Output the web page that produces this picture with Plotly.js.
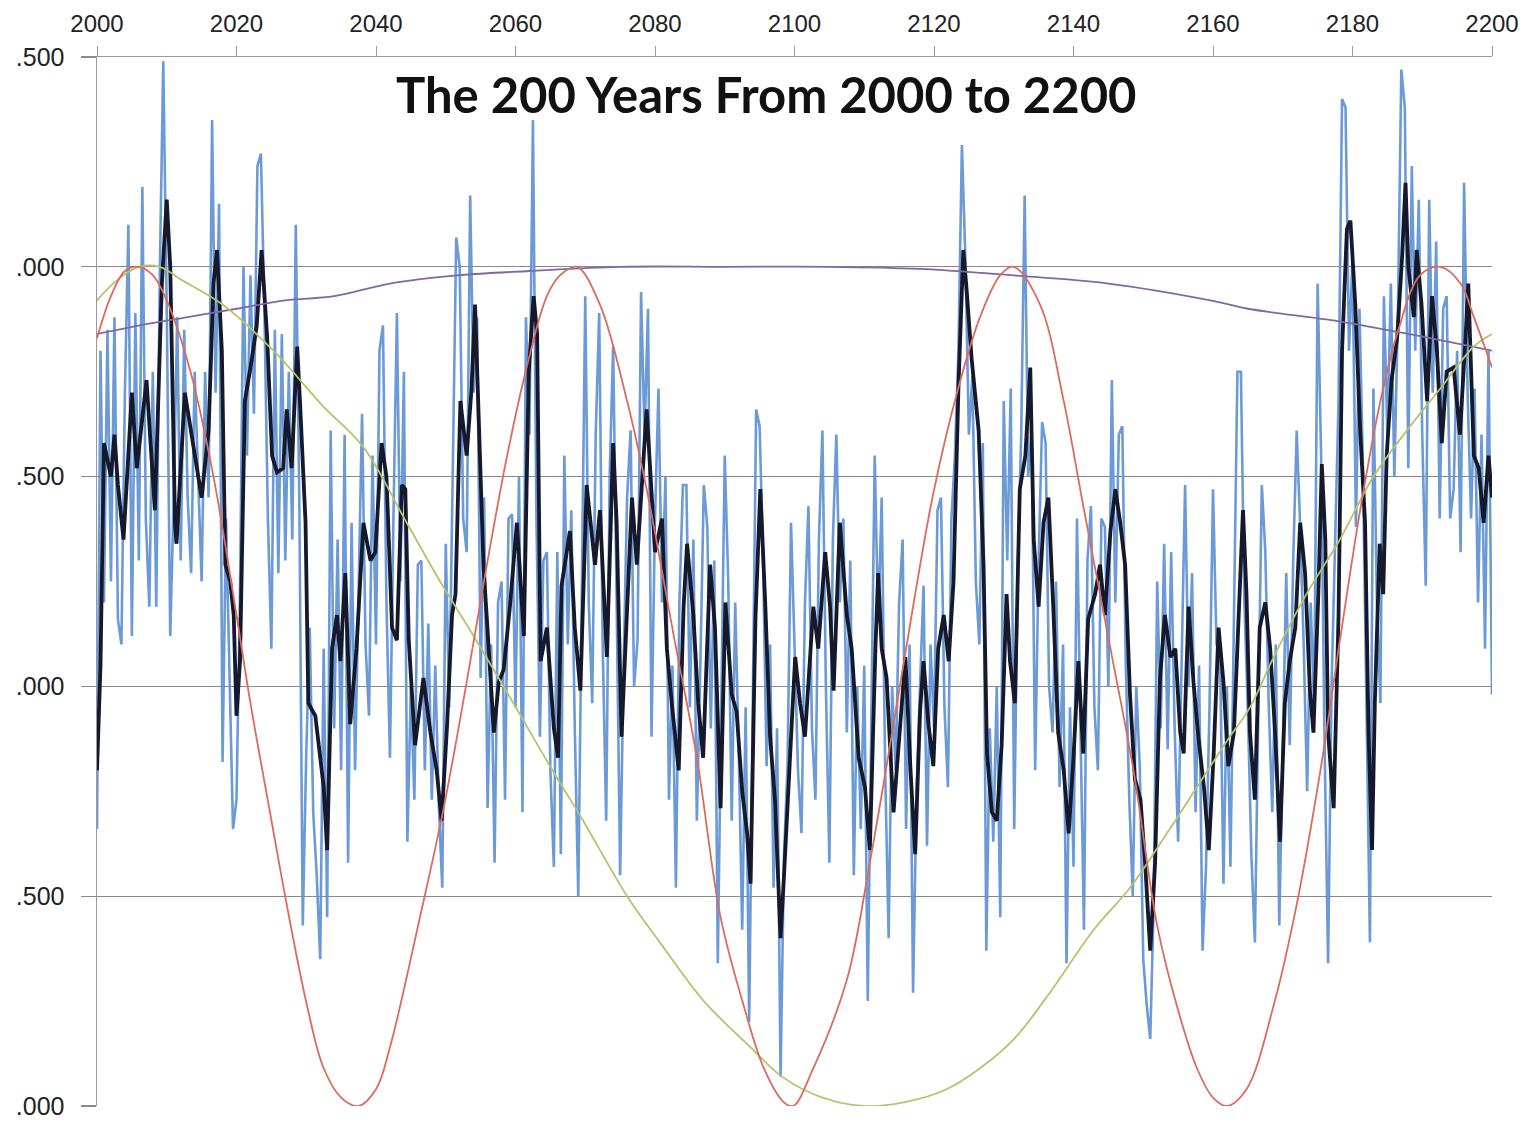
<!DOCTYPE html>
<html>
<head>
<meta charset="utf-8">
<script src="https://cdn.plot.ly/plotly-3.0.1.min.js"></script>
<style>html,body{margin:0;padding:0;background:#fff;}#chart{width:1534px;height:1140px;}</style>
</head>
<body>
<div id="chart"></div>
<script>
// ---------- data ----------
const xTickVals = [2000,2020,2040,2060,2080,2100,2120,2140,2160,2180,2200];
const yTickVals = [0, 0.5, 1.0, 1.5, 2.0, 2.5];
const yTickText = [".000", ".500", ".000", ".500", ".000", ".500"];

// raw (noisy) series, sampled every half year from 2000
const rawStartYear = 2000;
const rawStep = 0.5;
const rawValues = [
 0.66,1.80,1.20,1.85,1.25,1.88,1.16,1.10,1.70,2.10,
 1.12,1.89,1.30,2.19,1.40,1.19,1.75,1.19,1.98,2.49,
 1.90,1.12,1.45,1.88,1.30,1.85,1.45,1.27,1.75,1.50,
 1.25,1.75,1.45,2.35,1.70,2.15,0.82,1.40,1.00,0.66,
 0.73,1.22,2.00,1.55,1.98,1.65,2.24,2.27,1.90,1.40,
 1.09,1.85,1.27,1.84,1.30,1.75,1.35,2.10,1.45,0.43,
 0.84,1.14,0.70,0.55,0.35,1.09,0.45,1.61,0.90,1.35,
 0.80,1.60,0.58,1.39,0.80,1.25,1.65,1.10,0.93,1.55,
 1.10,1.80,1.86,1.20,0.83,1.40,1.89,1.25,1.75,0.63,
 1.00,0.73,1.29,1.30,0.80,1.15,0.73,1.05,0.72,0.52,
 1.34,0.95,1.55,2.07,2.00,1.40,1.32,2.17,1.70,1.88,
 1.02,1.45,0.71,1.10,0.58,1.20,1.25,0.73,1.40,1.41,
 0.95,1.50,0.70,1.88,1.60,2.35,1.40,0.88,1.30,1.32,
 0.80,0.57,1.32,0.60,1.55,1.10,1.42,0.90,0.50,1.30,
 1.93,1.20,0.96,1.60,1.89,1.10,0.68,1.50,1.81,1.20,
 0.55,1.05,1.45,1.61,1.00,1.11,1.94,1.60,1.90,0.88,
 1.40,1.71,1.20,1.50,0.73,1.05,0.52,1.20,1.48,1.48,
 0.95,1.35,0.68,1.05,1.48,1.38,0.90,1.30,0.34,0.95,
 1.55,1.25,0.68,1.20,0.85,0.42,0.95,0.20,1.00,1.66,
 1.62,1.30,0.81,1.10,0.52,0.90,0.07,0.60,0.81,1.39,
 1.10,0.80,0.65,1.20,1.43,0.90,0.73,1.35,1.61,1.00,
 0.58,1.35,1.60,1.20,1.40,0.89,1.30,0.55,1.00,0.66,
 1.05,0.25,0.90,1.55,1.15,1.45,0.80,0.40,1.00,0.80,
 1.20,1.35,0.66,1.10,0.27,0.75,1.00,1.24,0.62,1.10,
 0.90,1.42,1.45,0.95,0.76,1.40,1.55,1.80,2.29,2.02,
 1.60,1.74,1.25,1.10,1.58,0.37,0.90,0.63,1.00,0.45,
 1.68,1.30,1.71,0.66,1.27,1.60,2.17,1.50,1.61,0.80,
 1.30,1.63,1.58,1.00,0.89,1.25,0.76,1.10,0.34,0.95,
 0.57,1.40,0.90,0.42,1.30,1.43,0.95,0.80,1.40,1.38,
 1.00,1.73,1.20,1.60,1.62,1.05,0.73,0.50,1.00,0.81,
 0.35,0.24,0.16,0.48,1.25,0.90,1.34,0.85,1.32,0.90,
 0.63,1.10,1.48,1.00,1.27,0.70,1.05,0.37,0.57,0.95,
 1.47,1.10,1.09,0.53,1.00,0.57,1.20,1.75,1.75,1.20,
 0.94,0.60,0.39,1.00,1.48,1.32,0.95,0.70,1.10,0.43,
 0.90,1.27,0.86,1.30,1.61,1.38,1.10,0.75,1.20,0.95,
 1.96,1.55,0.86,0.34,1.00,1.35,1.68,2.40,2.38,1.80,
 2.02,1.38,1.90,1.52,0.89,0.39,1.71,1.20,0.96,1.93,
 1.60,1.96,1.50,1.88,2.47,2.38,1.52,2.24,1.80,2.16,
 1.60,1.24,2.16,1.70,2.06,1.40,1.90,1.93,1.40,1.47,
 1.80,1.32,2.20,1.70,1.40,1.71,1.20,1.60,1.09,1.80,
 0.98
];

// smoothed (dark) series: [year, value]
const smoothSeries = [
 [2000.0,0.80],[2000.5,1.05],[2001.0,1.58],[2001.4,1.55],[2002.0,1.50],[2002.5,1.60],[2003.0,1.48],[2003.8,1.35],[2005.0,1.70],[2005.7,1.52],
 [2007.1,1.73],[2008.3,1.42],[2009.3,1.96],[2010.0,2.16],[2010.5,2.00],[2011.2,1.38],[2011.4,1.34],[2012.6,1.70],[2013.8,1.58],[2015.0,1.45],
 [2016.0,1.61],[2016.7,1.96],[2017.2,2.04],[2017.9,1.80],[2018.4,1.29],[2019.1,1.25],[2019.6,1.17],[2020.0,0.93],[2020.5,1.06],[2021.2,1.68],
 [2022.2,1.78],[2022.9,1.86],[2023.6,2.04],[2024.4,1.83],[2025.1,1.55],[2025.8,1.51],[2026.7,1.52],[2027.2,1.66],[2027.9,1.52],[2028.7,1.81],
 [2029.1,1.68],[2029.9,1.39],[2030.3,0.96],[2031.3,0.93],[2032.5,0.76],[2033.0,0.61],[2033.7,1.09],[2034.4,1.17],[2034.9,1.06],[2035.6,1.27],
 [2036.3,0.91],[2037.2,1.09],[2038.2,1.39],[2039.2,1.30],[2039.9,1.32],[2040.8,1.58],[2041.5,1.50],[2042.3,1.14],[2043.0,1.11],[2043.7,1.48],
 [2044.2,1.47],[2044.7,1.11],[2045.6,0.86],[2046.3,0.96],[2046.8,1.02],[2047.8,0.89],[2048.7,0.80],[2049.4,0.68],[2050.2,0.91],[2050.9,1.17],
 [2051.4,1.22],[2052.1,1.68],[2053.0,1.55],[2053.7,1.71],[2054.2,1.91],[2054.9,1.55],[2055.4,1.29],[2055.9,1.16],[2056.9,0.89],[2057.6,1.01],
 [2058.3,1.04],[2059.2,1.19],[2060.2,1.39],[2061.2,1.12],[2061.9,1.75],[2062.6,1.93],[2063.1,1.84],[2063.6,1.06],[2064.5,1.14],[2065.5,0.90],
 [2066.1,0.83],[2066.6,1.24],[2067.8,1.37],[2068.5,1.14],[2069.3,0.99],[2070.2,1.48],[2071.4,1.29],[2072.1,1.42],[2073.1,1.07],[2074.0,1.58],
 [2074.5,1.39],[2075.2,0.88],[2076.2,1.29],[2076.7,1.45],[2077.4,1.29],[2078.1,1.47],[2078.8,1.66],[2079.3,1.52],[2080.0,1.32],[2081.0,1.40],
 [2081.7,1.09],[2082.4,0.96],[2083.4,0.80],[2084.1,1.19],[2084.6,1.34],[2085.5,1.17],[2086.2,0.96],[2086.9,0.83],[2087.9,1.29],[2088.6,1.14],
 [2089.4,0.71],[2090.1,1.20],[2091.0,0.98],[2091.7,0.94],[2092.5,0.75],[2093.2,0.65],[2093.7,0.53],[2094.4,1.16],[2095.1,1.47],[2095.8,1.20],
 [2096.5,0.88],[2097.2,0.73],[2098.0,0.40],[2098.5,0.55],[2099.2,0.80],[2099.6,0.91],[2100.1,1.07],[2100.8,0.96],[2101.5,0.88],[2102.2,1.07],
 [2102.7,1.19],[2103.4,1.09],[2104.4,1.32],[2105.1,1.19],[2105.6,0.99],[2106.5,1.39],[2107.5,1.17],[2108.2,1.09],[2109.2,0.83],[2110.1,0.76],
 [2110.8,0.61],[2111.6,1.09],[2112.0,1.27],[2112.5,1.09],[2113.2,1.02],[2114.2,0.70],[2114.9,0.86],[2115.9,1.07],[2116.6,0.81],[2117.3,0.60],
 [2118.0,0.94],[2118.5,1.06],[2119.2,0.91],[2119.9,0.81],[2120.6,1.09],[2121.4,1.17],[2122.1,1.06],[2122.8,1.25],[2123.5,1.71],[2124.2,2.04],
 [2124.7,1.94],[2125.4,1.78],[2126.4,1.61],[2127.1,1.29],[2127.6,0.84],[2128.3,0.70],[2129.0,0.68],[2129.7,0.86],[2130.4,1.22],[2130.9,1.06],
 [2131.6,0.96],[2132.3,1.47],[2133.1,1.55],[2133.8,1.76],[2134.3,1.35],[2135.0,1.19],[2135.7,1.39],[2136.4,1.45],[2137.1,1.19],[2137.8,0.89],
 [2138.6,0.80],[2139.3,0.65],[2140.0,0.83],[2140.7,1.06],[2141.4,0.84],[2142.1,1.16],[2143.1,1.22],[2143.8,1.29],[2144.5,1.17],[2145.3,1.37],
 [2146.0,1.47],[2146.7,1.39],[2147.4,1.29],[2148.1,0.98],[2148.8,0.78],[2149.6,0.73],[2150.3,0.57],[2151.0,0.37],[2151.7,0.58],[2152.4,1.02],
 [2153.1,1.17],[2153.9,1.07],[2154.6,1.09],[2155.3,0.89],[2155.8,0.84],[2156.5,1.19],[2157.2,1.01],[2157.9,0.88],[2158.7,0.76],[2159.4,0.61],
 [2160.1,0.84],[2160.8,1.14],[2161.5,1.01],[2162.2,0.81],[2163.0,0.89],[2163.7,1.19],[2164.3,1.42],[2164.8,1.22],[2165.3,0.89],[2166.0,0.73],
 [2166.7,1.14],[2167.5,1.20],[2168.2,1.09],[2168.9,0.89],[2169.6,0.63],[2170.3,0.96],[2171.0,1.06],[2171.8,1.14],[2172.5,1.39],[2173.2,1.27],
 [2173.9,0.99],[2174.4,0.89],[2175.1,1.22],[2175.6,1.53],[2176.1,1.35],[2176.5,0.89],[2177.3,0.71],[2178.0,1.17],[2178.5,1.80],[2179.2,2.09],
 [2179.7,2.11],[2180.4,1.91],[2181.1,1.61],[2181.8,1.39],[2182.3,0.89],[2182.8,0.61],[2183.2,0.96],[2183.9,1.34],[2184.4,1.22],[2184.9,1.55],
 [2185.6,1.73],[2186.4,1.83],[2187.1,2.02],[2187.6,2.20],[2188.0,2.00],[2188.8,1.88],[2189.2,2.04],[2189.9,1.91],[2190.7,1.68],[2191.4,1.93],
 [2192.1,1.80],[2192.8,1.58],[2193.5,1.75],[2194.5,1.76],[2195.4,1.60],[2196.2,1.83],[2196.6,1.96],[2197.4,1.55],[2198.1,1.52],[2198.8,1.39],
 [2199.5,1.55],[2200.0,1.45]
];

// ~62-year cycle (red)
const cycle62 = [
 [2000,1.83],[2002,1.93],[2004,1.99],[2006,2.00],[2008,1.98],[2010,1.92],[2013.4,1.75],[2016.7,1.50],[2020,1.17],[2022,0.96],
 [2024.8,0.70],[2027.2,0.48],[2030.1,0.24],[2032.5,0.09],[2035,0.02],[2037.5,0.00],[2040,0.04],[2042,0.14],[2046.3,0.45],[2049.7,0.71],
 [2053,1.01],[2055.9,1.29],[2058.8,1.55],[2061.6,1.76],[2064.5,1.93],[2066.4,1.98],[2068.8,2.00],[2072.1,1.91],[2076,1.68],[2078.8,1.47],
 [2082.7,1.12],[2086,0.83],[2089.4,0.45],[2092.7,0.24],[2095.6,0.09],[2098.4,0.01],[2099.8,0.00],[2102.7,0.09],[2107.5,0.30],[2110.8,0.58],
 [2114.2,0.91],[2117.1,1.20],[2119.9,1.46],[2123.3,1.70],[2126.6,1.88],[2129.5,1.98],[2131.4,2.00],[2135.2,1.91],[2138.6,1.68],[2141.4,1.43],
 [2145.3,1.09],[2148.6,0.80],[2152,0.43],[2154.8,0.24],[2157.7,0.09],[2160,0.02],[2162,0.00],[2164.8,0.04],[2168.7,0.24],[2172,0.48],
 [2175.4,0.80],[2178.2,1.11],[2181.1,1.42],[2184,1.68],[2186.4,1.84],[2189.7,1.98],[2192.6,2.00],[2195.5,1.96],[2197.4,1.88],[2200,1.76]
];

// ~200-year cycle (green)
const cycle200 = [
 [2000,1.92],[2003,1.97],[2006,2.00],[2009,2.00],[2012,1.97],[2018,1.91],[2025.3,1.80],[2032.3,1.67],[2038.2,1.57],[2044.4,1.39],
 [2049.2,1.25],[2054,1.12],[2059.7,0.96],[2065.3,0.80],[2069.7,0.68],[2076,0.50],[2080.7,0.39],[2087,0.25],[2093.7,0.14],[2098.2,0.07],
 [2104,0.02],[2110,0.00],[2116,0.01],[2121.8,0.04],[2126.6,0.09],[2131.5,0.16],[2136.6,0.27],[2142.9,0.42],[2148.1,0.52],[2153.4,0.65],
 [2157.7,0.76],[2162,0.87],[2165.3,0.95],[2168.7,1.07],[2173.4,1.22],[2178.2,1.35],[2183,1.50],[2187.8,1.61],[2192.6,1.71],[2197.4,1.81],
 [2200,1.84]
];

// long cycle (purple)
const cycleLong = [
 [2000,1.84],[2006,1.86],[2013,1.88],[2020,1.90],[2027,1.92],[2034,1.93],[2042,1.96],[2052,1.98],[2062,1.99],[2075,2.00],
 [2090,2.00],[2105,2.00],[2118,1.995],[2131,1.98],[2145,1.96],[2159.6,1.92],[2165,1.90],[2178,1.87],[2188,1.84],[2200,1.80]
];

// ---------- build traces ----------
const rawYears = rawValues.map((v, i) => rawStartYear + i * rawStep);
const col = (arr, k) => arr.map(p => p[k]);

const traces = [
  {x: rawYears, y: rawValues, type: 'scatter', mode: 'lines',
   line: {color: '#5e91d2', width: 2.6}, opacity: 0.92, hoverinfo: 'skip'},
  {x: col(smoothSeries,0), y: col(smoothSeries,1), type: 'scatter', mode: 'lines',
   line: {color: '#15192b', width: 3.8}, hoverinfo: 'skip'},
  {x: col(cycleLong,0), y: col(cycleLong,1), type: 'scatter', mode: 'lines',
   line: {color: '#7f68a6', width: 1.8, shape: 'spline'}, hoverinfo: 'skip'},
  {x: col(cycle200,0), y: col(cycle200,1), type: 'scatter', mode: 'lines',
   line: {color: '#b5c46a', width: 1.8, shape: 'spline'}, hoverinfo: 'skip'},
  {x: col(cycle62,0), y: col(cycle62,1), type: 'scatter', mode: 'lines',
   line: {color: '#dc6b5e', width: 1.8, shape: 'spline'}, hoverinfo: 'skip'}
];

const layout = {
  width: 1534, height: 1140,
  margin: {l: 97, r: 42, t: 57, b: 34, pad: 0},
  paper_bgcolor: '#ffffff', plot_bgcolor: '#ffffff',
  showlegend: false,
  font: {family: 'Liberation Sans, Arial, sans-serif', color: '#222'},
  xaxis: {
    range: [2000, 2200], side: 'top', tickmode: 'array', tickvals: xTickVals,
    ticktext: xTickVals.map(String),
    showgrid: false, zeroline: false, showline: true, linecolor: '#9a9a9a', linewidth: 1.5,
    ticks: 'outside', ticklen: 10, tickcolor: '#9a9a9a', tickwidth: 1,
    ticklabelstandoff: 4,
    tickfont: {family: 'Liberation Sans, Arial, sans-serif', size: 24, color: '#222'}
  },
  yaxis: {
    range: [0, 2.5], tickmode: 'array', tickvals: yTickVals, ticktext: yTickText,
    showgrid: true, gridcolor: '#8a8a8a', gridwidth: 1.2, zeroline: false,
    showline: true, linecolor: '#9a9a9a', linewidth: 1.5,
    ticks: 'outside', ticklen: 15, tickcolor: '#8a8a8a', tickwidth: 1.2,
    ticklabelstandoff: 11,
    tickfont: {family: 'Liberation Sans, Arial, sans-serif', size: 25, color: '#222'}
  },
  annotations: [{
    text: '<b>The 200 Years From 2000 to 2200</b>',
    xref: 'paper', yref: 'paper', x: 0.48, y: 0.965, xanchor: 'center', yanchor: 'middle',
    showarrow: false, font: {family: 'Lato, sans-serif', size: 49, color: '#111'}
  }]
};

Plotly.newPlot('chart', traces, layout, {displayModeBar: false, staticPlot: true});
</script>
</body>
</html>
